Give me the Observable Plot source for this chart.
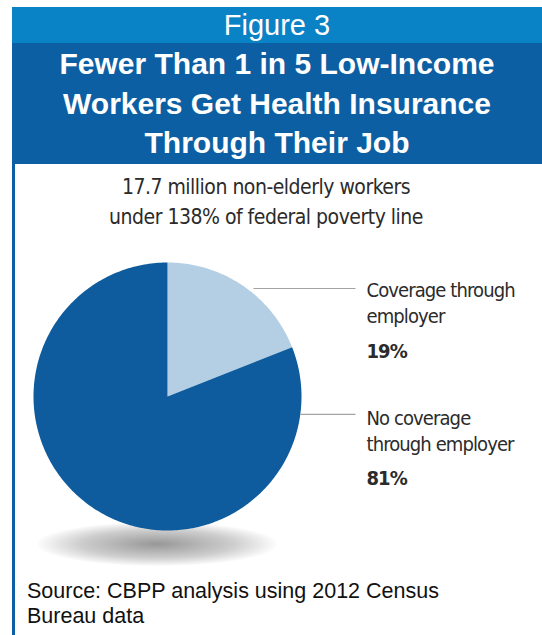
<!DOCTYPE html>
<html>
<head>
<meta charset="utf-8">
<script src="https://cdn.jsdelivr.net/npm/d3@7"></script>
<script src="https://cdn.jsdelivr.net/npm/@observablehq/plot@0.6"></script>
<style>
  html, body { margin: 0; padding: 0; background: #fff; }
  #page { position: relative; width: 542px; height: 635px; overflow: hidden; font-family: "Liberation Sans", Arial, sans-serif; }
  .band1 { position: absolute; left: 12px; top: 7px; width: 530px; height: 36px; background: #0a83c6; color: #fff; text-align: center; font-size: 29px; line-height: 36px; }
  .band2 { position: absolute; left: 12px; top: 43px; width: 530px; height: 121px; background: #0d5fa3; color: #fff; text-align: center; font-weight: bold; font-size: 30px; line-height: 39.5px; padding-top: 1px; box-sizing: border-box; }
  .leftbar { position: absolute; left: 12px; top: 164px; width: 3px; height: 471px; background: #0d5fa3; }
  .subtitle { position: absolute; left: 0; top: 172px; width: 532px; text-align: center; font-family: "DejaVu Sans Condensed", sans-serif; font-size: 21px; letter-spacing: -0.5px; line-height: 30px; color: #2b2b2b; }
  .shadow { position: absolute; left: 37px; top: 522px; width: 240px; height: 44px; border-radius: 50%; background: radial-gradient(ellipse at center, rgba(140,140,140,0.9) 0%, rgba(165,165,165,0.55) 45%, rgba(255,255,255,0) 72%); }
  #chart { position: absolute; left: 0; top: 230px; }
  #chart text { letter-spacing: -0.9px; }
  .source { position: absolute; left: 27px; top: 579px; font-size: 21.5px; line-height: 25px; color: #111; }
</style>
</head>
<body>
<div id="page">
  <div class="band1">Figure 3</div>
  <div class="band2">Fewer Than 1 in 5 Low-Income<br>Workers Get Health Insurance<br>Through Their Job</div>
  <div class="leftbar"></div>
  <div class="subtitle">17.7 million non-elderly workers<br>under 138% of federal poverty line</div>
  <div class="shadow"></div>
  <div id="chart"></div>
  <div class="source">Source: CBPP analysis using 2012 Census<br>Bureau data</div>
</div>
<script>
// Data
const categories = ["Coverage through employer", "No coverage through employer"];
const labelLines = ["Coverage through\nemployer", "No coverage\nthrough employer"];
const shares = [19, 81];
const pctLabels = ["19%", "81%"];
const sliceColors = ["#b4cfe4", "#0e5c9e"];

// Annotation placement in pie-radius units (center = 0,0; radius = 1)
const labelX = [1.485, 1.485];
const labelY = [0.552, -0.403];
const pctY = [0.284, -0.657];
const leaderX1 = [0.642, 0.993];
const leaderY = [0.806, -0.134];
const leaderX2 = [1.403, 1.403];

// Layout
const W = 542, H = 340, R = 134, CX = 167, CY = 166;

// Build slice outlines from the shares (clockwise from 12 o'clock)
const total = d3.sum(shares);
const slicePts = [];
let acc = 0;
shares.forEach((v, i) => {
  const a0 = acc / total * 2 * Math.PI;
  acc += v;
  const a1 = acc / total * 2 * Math.PI;
  slicePts.push({cat: categories[i], x: 0, y: 0});
  const n = Math.max(2, Math.ceil((a1 - a0) / (Math.PI / 180)));
  for (let k = 0; k <= n; k++) {
    const a = a0 + (a1 - a0) * k / n;
    slicePts.push({cat: categories[i], x: Math.sin(a), y: Math.cos(a)});
  }
});

const labels = categories.map((c, i) => ({cat: c, text: labelLines[i], pct: pctLabels[i], x: labelX[i], y: labelY[i], py: pctY[i], lx1: leaderX1[i], lx2: leaderX2[i], ly: leaderY[i]}));

const chart = Plot.plot({
  width: W,
  height: H,
  margin: 0,
  x: {type: "linear", domain: [-CX / R, (W - CX) / R], range: [0, W], axis: null},
  y: {type: "linear", domain: [-(H - CY) / R, CY / R], range: [H, 0], axis: null},
  color: {domain: categories, range: sliceColors},
  style: {background: "transparent", overflow: "visible"},
  marks: [
    Plot.line(slicePts, {x: "x", y: "y", z: "cat", fill: "cat", stroke: "none", curve: "linear-closed"}),
    Plot.link(labels, {x1: "lx1", x2: "lx2", y1: "ly", y2: "ly", stroke: "#a3a3a3", strokeWidth: 1.2}),
    Plot.text(labels, {x: "x", y: "y", text: "text", textAnchor: "start", lineAnchor: "bottom", lineHeight: 1.3, fontSize: 20, fill: "#2b2b2b", fontFamily: "DejaVu Sans Condensed, sans-serif"}),
    Plot.text(labels, {x: "x", y: "py", text: "pct", textAnchor: "start", lineAnchor: "bottom", fontSize: 20, fontWeight: "bold", fill: "#2b2b2b", fontFamily: "DejaVu Sans Condensed, sans-serif"})
  ]
});
document.getElementById("chart").appendChild(chart);
</script>
</body>
</html>
